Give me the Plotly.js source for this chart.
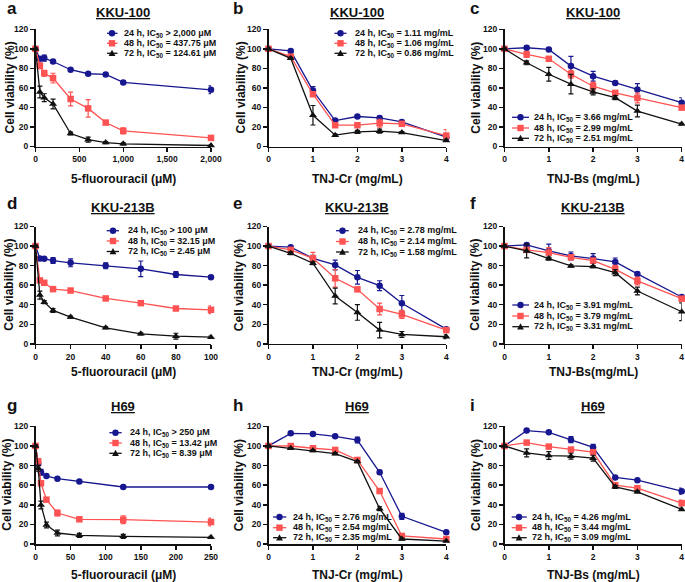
<!DOCTYPE html>
<html><head><meta charset="utf-8">
<script src="https://cdn.plot.ly/plotly-3.0.1.min.js"></script>
<style>html,body{margin:0;padding:0;background:#fff}#chart{width:685px;height:582px}</style>
</head><body><div id="chart"></div>
<script>
// ---------- data ----------
const doseFU_A=[0,50,100,200,400,600,800,1000,2000];
const doseFU_D=[0,2.5,5,10,20,40,60,80,100];
const doseFU_G=[0,3.9,7.8,15.6,31.25,62.5,125,250];
const doseTNJ=[0,0.5,1,1.5,2,2.5,3,4];

const a24=[100,89.8,90.5,87,78.6,74.5,73.8,65.6,58];
const a24e=[0,1.5,3,1.5,1,1,1,1.5,4];
const a48=[100,82.6,75,70,48.6,39,24.5,16,8.8];
const a48e=[1,3,3,5,7,9,1.5,3,1.5];
const a72=[100,55.8,50,43.5,13.3,7,4,2.7,1];
const a72e=[1,6,4,5,1.5,2.5,1,1,0.5];

const b24=[100,97.9,57.3,26.6,30.7,29.3,25.2,9.5];
const b24e=[1,1,4,1.5,1,1.5,1.5,4];
const b48=[100,92,53.5,21.8,21.8,23.9,23.2,11.2];
const b48e=[1.5,2,2,1,1,4,1.5,6];
const b72=[100,90.3,32,11.6,15,15.7,14.3,6.1];
const b72e=[1,1,10,1,1.5,2,1,1];

const c24=[100,101.1,99.4,82.3,72,65.1,58.3,44.9];
const c24e=[1,2,1,10,5,1.5,6,5];
const c48=[100,94.3,89.8,74,61.7,54.9,49.7,39.8];
const c48e=[1,3,2,4,4,2,5,2];
const c72=[100,85.7,74,63.8,55.9,50,36.3,23];
const c72e=[1,2,7,10,3,2,6,1];

const d24=[100,87.3,87,85.2,82.8,79.8,76.7,70.9,68.2];
const d24e=[1,1,1,3,4,3,8,3,1.5];
const d48=[100,64.8,62.4,55.9,54.5,46.4,41.6,36.1,34.8];
const d48e=[1,1.5,1.5,1,1,1,1,1,4];
const d72=[100,49.8,42.6,34.1,27.3,16.4,10.2,7.8,6.8];
const d72e=[1,4,1.5,2,1,1,1,3,1];

const e24=[100,98.8,87.5,80.7,68,59.5,41.4,15];
const e24e=[1,1,3,5,7,5,8,1.5];
const e48=[100,96.1,87.5,67,55.7,35.6,30.1,14];
const e48e=[1,1.5,6,9,2,6,4,1.5];
const e72=[100,92.6,82.4,48.9,32.1,14,9.6,7.2];
const e72e=[1,1.5,1.5,8,8,8,3,2];

const f24=[100,101.2,95,89.9,87.2,83.8,71.5,47.9];
const f24e=[1,1.5,7,4,5,4,1.5,1.5];
const f48=[100,96.1,93.3,88.5,85.1,76.2,64.3,46.2];
const f48e=[1,2,5,2,2,4,4,1.5];
const f72=[100,95,87.2,79.7,79,72.8,54,32.8];
const f72e=[1,7,1.5,1,1,3,4,9];

const g24=[100,81.9,73.1,69.3,66.6,63.6,58.1,58.1];
const g24e=[1,2,3,1.5,1,1,1,1];
const g48=[100,84.3,61.9,45.2,31.6,25.2,24.8,22.4];
const g48e=[1,2,2,2,3,1.5,4,4];
const g72=[100,77.2,39.8,19.4,11.2,8.8,7.8,6.8];
const g72e=[1,3,4,3,3,2,2,1];

const h24=[100,112.8,112.2,109.8,106,73.1,28.2,11.9];
const h24e=[1,1,1,1,3,2,3,1];
const h48=[100,99.9,97.6,95.9,85.7,54,8.2,5.1];
const h48e=[1,1.5,1.5,1.5,1.5,1,1,1];
const h72=[100,97.6,95.2,92.1,84,36,5.1,3];
const h72e=[1,1,1,1,1,2,1,0.5];

const i24=[100,115.6,113.9,106.4,98.6,67.8,65.1,53.9];
const i24e=[1,1,1,3,3,1,1,3];
const i48=[100,103.4,99.3,96.3,93.6,60,56.9,41.7];
const i48e=[1,1.5,1.5,1.5,1.5,1.5,1.5,3];
const i72=[100,92.9,90.2,89.5,87.5,58.3,53.2,35.3];
const i72e=[1,4,4,3,3,1.5,1,1];

const cellLines=["KKU-100","KKU-213B","H69"];
const panelLetters=["a","b","c","d","e","f","g","h","i"];
const xTitles=["5-fluorouracil (μM)","TNJ-Cr (mg/mL)","TNJ-Bs (mg/mL)","TNJ-Bs(mg/mL)"];
const yTitle="Cell viability (%)";
const seriesNames=["24 h","48 h","72 h"];

const legA=["24 h, IC<sub>50</sub> &gt; 2,000 μM","48 h, IC<sub>50</sub> = 437.75 μM","72 h, IC<sub>50</sub> = 124.61 μM"];
const legB=["24 h, IC<sub>50</sub> = 1.11 mg/mL","48 h, IC<sub>50</sub> = 1.06 mg/mL","72 h, IC<sub>50</sub> = 0.86 mg/mL"];
const legC=["24 h, IC<sub>50</sub> = 3.66 mg/mL","48 h, IC<sub>50</sub> = 2.99 mg/mL","72 h, IC<sub>50</sub> = 2.51 mg/mL"];
const legD=["24 h, IC<sub>50</sub> &gt; 100 μM","48 h, IC<sub>50</sub> = 32.15 μM","72 h, IC<sub>50</sub> = 2.45 μM"];
const legE=["24 h, IC<sub>50</sub> = 2.78 mg/mL","48 h, IC<sub>50</sub> = 2.14 mg/mL","72 h, IC<sub>50</sub> = 1.58 mg/mL"];
const legF=["24 h, IC<sub>50</sub> = 3.91 mg/mL","48 h, IC<sub>50</sub> = 3.79 mg/mL","72 h, IC<sub>50</sub> = 3.31 mg/mL"];
const legG=["24 h, IC<sub>50</sub> &gt; 250 μM","48 h, IC<sub>50</sub> = 13.42 μM","72 h, IC<sub>50</sub> = 8.39 μM"];
const legH=["24 h, IC<sub>50</sub> = 2.76 mg/mL","48 h, IC<sub>50</sub> = 2.54 mg/mL","72 h, IC<sub>50</sub> = 2.35 mg/mL"];
const legI=["24 h, IC<sub>50</sub> = 4.26 mg/mL","48 h, IC<sub>50</sub> = 3.44 mg/mL","72 h, IC<sub>50</sub> = 3.09 mg/mL"];

// ---------- styling / layout geometry (pixels) ----------
const W=685,H=582;
const FONT="Liberation Sans, Arial, Helvetica, sans-serif";
const COLORS=["#17178f","#ff5252","#111111"];
const SYMBOLS=["circle","square","triangle-up"];
const colX=[[35.5,211],[268.5,446.3],[504.5,681.7]];
const rowY=[[29.3,146.5],[226.5,343.8],[426.3,544]];
const letterX=[5,231,468];
const letterY=[9,203,405];
const titleY=[12,207.5,406.5];
const xTitleY=[179,372.5,574.5];
const yTitleX=[[9.5,240.5,475.8],[9.5,239,475.5],[7.5,239,475.8]];

const panels=[
 {x:doseFU_A,ys:[a24,a48,a72],es:[a24e,a48e,a72e],range:[0,2000],dtick:500,sep:true,xt:xTitles[0],leg:legA,lp:{l0:107,l1:117.5,m:112,t:122,rows:[33.3,43.3,53.3]}},
 {x:doseTNJ,ys:[b24,b48,b72],es:[b24e,b48e,b72e],range:[0,4],dtick:1,xt:xTitles[1],leg:legB,lp:{l0:334.5,l1:346.5,m:340.5,t:353,rows:[33.3,43.3,53.3]}},
 {x:doseTNJ,ys:[c24,c48,c72],es:[c24e,c48e,c72e],range:[0,4],dtick:1,xt:xTitles[2],leg:legC,lp:{l0:512,l1:529,m:520.5,t:531.5,rows:[117.3,128,138.3]}},
 {x:doseFU_D,ys:[d24,d48,d72],es:[d24e,d48e,d72e],range:[0,100],dtick:20,xt:xTitles[0],leg:legD,lp:{l0:106.7,l1:119,m:113,t:126,rows:[230.7,241,251.5]}},
 {x:doseTNJ,ys:[e24,e48,e72],es:[e24e,e48e,e72e],range:[0,4],dtick:1,xt:xTitles[1],leg:legE,lp:{l0:336,l1:348.7,m:342.5,t:355.5,rows:[230.7,241.5,252]}},
 {x:doseTNJ,ys:[f24,f48,f72],es:[f24e,f48e,f72e],range:[0,4],dtick:1,xt:xTitles[3],leg:legF,lp:{l0:512.3,l1:529,m:520.5,t:532,rows:[305,316,326.7]}},
 {x:doseFU_G,ys:[g24,g48,g72],es:[g24e,g48e,g72e],range:[0,250],dtick:50,xt:xTitles[0],leg:legG,lp:{l0:109.3,l1:121.7,m:115.5,t:128,rows:[432.7,443,453.3]}},
 {x:doseTNJ,ys:[h24,h48,h72],es:[h24e,h48e,h72e],range:[0,4],dtick:1,xt:xTitles[1],leg:legH,lp:{l0:273,l1:286.3,m:279.5,t:291,rows:[517,527.7,537.7]}},
 {x:doseTNJ,ys:[i24,i48,i72],es:[i24e,i48e,i72e],range:[0,4],dtick:1,xt:xTitles[2],leg:legI,lp:{l0:511.7,l1:526.7,m:519,t:529.5,rows:[517,527.7,537.7]}}
];

const PX=v=>v/W, PY=v=>1-v/H;
const traces=[];
const layout={width:W,height:H,margin:{l:0,r:0,t:0,b:0},paper_bgcolor:"#fff",plot_bgcolor:"rgba(0,0,0,0)",
  showlegend:false,font:{family:FONT,color:"#111"},annotations:[],shapes:[]};

const axisBase={showline:true,linecolor:"#111",linewidth:1.5,ticks:"outside",ticklen:4,tickwidth:1.5,tickcolor:"#111",
  showgrid:false,zeroline:false,fixedrange:true,tickfont:{family:FONT,size:8.5,weight:"bold",color:"#111"}};

panels.forEach((p,idx)=>{
  const k=idx+1, col=idx%3, row=Math.floor(idx/3);
  const xa="xaxis"+(k>1?k:""), ya="yaxis"+(k>1?k:"");
  const [x0,x1]=colX[col], [y0,y1]=rowY[row];
  layout[xa]=Object.assign({},axisBase,{domain:[PX(x0),PX(x1)],anchor:"y"+(k>1?k:""),range:p.range,tick0:0,dtick:p.dtick,separatethousands:!!p.sep});
  layout[ya]=Object.assign({},axisBase,{domain:[PY(y1),PY(y0)],anchor:"x"+(k>1?k:""),range:[0,120],tick0:0,dtick:20});
  for(let s=0;s<3;s++){
    traces.push({type:"scatter",mode:"lines+markers",x:p.x,y:p.ys[s],name:seriesNames[s],
      xaxis:"x"+(k>1?k:""),yaxis:"y"+(k>1?k:""),cliponaxis:false,
      line:{color:COLORS[s],width:1.3},
      marker:{symbol:SYMBOLS[s],size:s===2?7:6.5,color:COLORS[s]},
      error_y:{type:"data",array:p.es[s],visible:true,color:COLORS[s],thickness:1.2,width:2.5}});
  }
  layout.annotations.push({xref:"paper",yref:"paper",x:PX(letterX[col]),y:PY(letterY[row]),xanchor:"left",yanchor:"middle",
    text:panelLetters[idx],showarrow:false,font:{family:FONT,size:17,weight:"bold",color:"#111"}});
  layout.annotations.push({xref:"paper",yref:"paper",x:PX((x0+x1)/2),y:PY(titleY[row]),xanchor:"center",yanchor:"middle",
    text:"<u>"+cellLines[row]+"</u>",showarrow:false,font:{family:FONT,size:13,weight:"bold",color:"#111"}});
  layout.annotations.push({xref:"paper",yref:"paper",x:PX((x0+x1)/2),y:PY(xTitleY[row]),xanchor:"center",yanchor:"middle",
    text:p.xt,showarrow:false,font:{family:FONT,size:12,weight:"bold",color:"#111"}});
  layout.annotations.push({xref:"paper",yref:"paper",x:PX(yTitleX[row][col]),y:PY((y0+y1)/2),xanchor:"center",yanchor:"middle",
    textangle:-90,text:yTitle,showarrow:false,font:{family:FONT,size:12,weight:"bold",color:"#111"}});
  const lp=p.lp;
  for(let s=0;s<3;s++){
    const ry=lp.rows[s];
    layout.shapes.push({type:"line",xref:"paper",yref:"paper",x0:PX(lp.l0),x1:PX(lp.l1),y0:PY(ry),y1:PY(ry),line:{color:COLORS[s],width:1.3}});
    const r=3.2;
    if(s===0){
      layout.shapes.push({type:"circle",xref:"paper",yref:"paper",x0:PX(lp.m-r),x1:PX(lp.m+r),y0:PY(ry+r),y1:PY(ry-r),fillcolor:COLORS[s],line:{width:0}});
    }else if(s===1){
      layout.shapes.push({type:"rect",xref:"paper",yref:"paper",x0:PX(lp.m-r),x1:PX(lp.m+r),y0:PY(ry+r),y1:PY(ry-r),fillcolor:COLORS[s],line:{width:0}});
    }else{
      const path="M "+PX(lp.m-3.4)+","+PY(ry+2.7)+" L "+PX(lp.m+3.4)+","+PY(ry+2.7)+" L "+PX(lp.m)+","+PY(ry-3.5)+" Z";
      layout.shapes.push({type:"path",xref:"paper",yref:"paper",path:path,fillcolor:COLORS[s],line:{width:0}});
    }
    layout.annotations.push({xref:"paper",yref:"paper",x:PX(lp.t),y:PY(ry),xanchor:"left",yanchor:"middle",
      text:p.leg[s],showarrow:false,font:{family:FONT,size:9,weight:"bold",color:"#111"}});
  }
});

Plotly.newPlot("chart",traces,layout,{displayModeBar:false,staticPlot:true});
</script>
</body></html>
